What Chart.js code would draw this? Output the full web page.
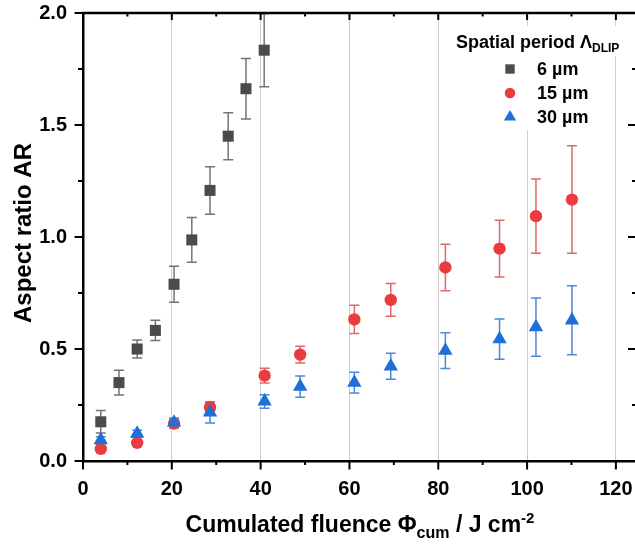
<!DOCTYPE html>
<html lang="en">
<head>
<meta charset="UTF-8">
<title>Aspect ratio vs cumulated fluence</title>
<script src="https://cdn.jsdelivr.net/npm/chart.js"></script>
<style>
  body { margin: 0; background: #fff; }
  canvas { display: block; }
</style>
</head>
<body>
<canvas id="arChart" width="635" height="545"></canvas>
<script>
// values
const fluence6 = [4.0, 8.1, 12.2, 16.3, 20.5, 24.5, 28.6, 32.7, 36.7, 40.8];
const ar6 = [0.175, 0.35, 0.50, 0.583, 0.789, 0.987, 1.208, 1.45, 1.662, 1.834];
const err6 = [0.05, 0.055, 0.04, 0.045, 0.08, 0.10, 0.106, 0.105, 0.135, 0.163];

const fluence15 = [4.0, 12.2, 20.5, 28.6, 40.9, 48.9, 61.1, 69.3, 81.6, 93.8, 102.0, 110.1];
const ar15 = [0.054, 0.081, 0.167, 0.239, 0.381, 0.475, 0.632, 0.719, 0.864, 0.948, 1.093, 1.167];
const err15 = [0.01, 0.01, 0.02, 0.02, 0.033, 0.037, 0.063, 0.073, 0.104, 0.127, 0.166, 0.24];

const fluence30 = [4.0, 12.2, 20.5, 28.6, 40.9, 48.9, 61.1, 69.3, 81.6, 93.8, 102.0, 110.1];
const ar30 = [0.093, 0.122, 0.172, 0.217, 0.266, 0.332, 0.35, 0.423, 0.493, 0.544, 0.598, 0.628];
const err30 = [0.015, 0.015, 0.02, 0.047, 0.03, 0.047, 0.046, 0.058, 0.08, 0.09, 0.13, 0.154];

const periods = ["6 µm", "15 µm", "30 µm"];

const FONT = '"Liberation Sans", Arial, sans-serif';

function points(xs, ys) {
    return xs.map((x, i) => ({ x: x, y: ys[i] }));
}

function makeSet(label, xs, ys, errs, fill, barColor, style, radius, order) {
    return {
        label: label,
        data: points(xs, ys),
        errors: errs,
        errorColor: barColor,
        backgroundColor: fill,
        borderColor: fill,
        borderWidth: 0,
        pointStyle: style,
        pointRadius: radius,
        showLine: false,
        order: order
    };
}

// error bars, drawn under the markers
const errorBars = {
    id: 'errorBars',
    beforeDatasetsDraw(chart) {
        const ctx = chart.ctx, a = chart.chartArea, ys = chart.scales.y;
        ctx.save();
        ctx.beginPath();
        ctx.rect(a.left, a.top, a.right - a.left, a.bottom - a.top);
        ctx.clip();
        ctx.lineWidth = 1.5;
        chart.data.datasets.forEach((ds, i) => {
            const meta = chart.getDatasetMeta(i);
            ctx.strokeStyle = ds.errorColor;
            meta.data.forEach((pt, j) => {
                const v = ds.data[j].y, e = ds.errors[j];
                const top = ys.getPixelForValue(v + e), bot = ys.getPixelForValue(v - e);
                ctx.beginPath();
                ctx.moveTo(pt.x, top); ctx.lineTo(pt.x, bot);
                ctx.moveTo(pt.x - 5, top); ctx.lineTo(pt.x + 5, top);
                ctx.moveTo(pt.x - 5, bot); ctx.lineTo(pt.x + 5, bot);
                ctx.stroke();
            });
        });
        ctx.restore();
    }
};

function drawRuns(ctx, runs, x, y) {
    runs.forEach(r => {
        ctx.font = 'bold ' + r.size + 'px ' + FONT;
        ctx.fillText(r.t, x, y + r.dy);
        x += ctx.measureText(r.t).width;
    });
}
function runsWidth(ctx, runs) {
    let w = 0;
    runs.forEach(r => {
        ctx.font = 'bold ' + r.size + 'px ' + FONT;
        w += ctx.measureText(r.t).width;
    });
    return w;
}

// frame ticks, axis titles and legend
const frame = {
    id: 'frame',
    afterDraw(chart) {
        const ctx = chart.ctx, a = chart.chartArea;
        const xs = chart.scales.x, ys = chart.scales.y;
        ctx.save();
        ctx.strokeStyle = '#000';
        ctx.lineWidth = 2.5;
        ctx.beginPath();
        ctx.moveTo(a.left - 1, a.top); ctx.lineTo(a.right, a.top);
        ctx.stroke();

        ctx.lineWidth = 2;
        for (let v = 0; v <= 120; v += 10) {
            const px = xs.getPixelForValue(v);
            const major = v % 20 === 0;
            ctx.beginPath();
            ctx.moveTo(px, a.bottom); ctx.lineTo(px, a.bottom + (major ? 8.5 : 4));
            if (v > 0) {
                ctx.moveTo(px, a.top); ctx.lineTo(px, a.top + (major ? 7 : 3.5));
            }
            ctx.stroke();
        }
        for (let v = 0; v <= 2.0001; v += 0.25) {
            const py = ys.getPixelForValue(v);
            const major = Math.abs(v * 2 - Math.round(v * 2)) < 1e-6;
            ctx.beginPath();
            ctx.moveTo(a.left - (major ? 8.5 : 5), py); ctx.lineTo(a.left, py);
            if (v > 0 && v < 2) {
                ctx.moveTo(a.right - (major ? 7 : 3), py); ctx.lineTo(a.right, py);
            }
            ctx.stroke();
        }

        // axis titles
        ctx.fillStyle = '#000';
        ctx.textBaseline = 'alphabetic';
        const xTitle = [
            { t: 'Cumulated fluence Φ', size: 23, dy: 0 },
            { t: 'cum', size: 16, dy: 6 },
            { t: ' / J cm', size: 23, dy: 0 },
            { t: '-2', size: 15, dy: -9 }
        ];
        drawRuns(ctx, xTitle, 360 - runsWidth(ctx, xTitle) / 2, 532);

        ctx.save();
        ctx.translate(31, 233);
        ctx.rotate(-Math.PI / 2);
        ctx.font = 'bold 24px ' + FONT;
        ctx.textAlign = 'center';
        ctx.fillText('Aspect ratio AR', 0, 0);
        ctx.restore();

        // legend
        ctx.fillStyle = '#fff';
        ctx.fillRect(448, 26, 166, 104);
        ctx.fillRect(448, 26, 185, 30);
        ctx.fillStyle = '#000';
        drawRuns(ctx, [
            { t: 'Spatial period Λ', size: 18, dy: 0 },
            { t: 'DLIP', size: 12, dy: 4 }
        ], 456, 48);
        const rowsY = [69, 93, 117];
        chart.data.datasets.forEach((ds, i) => {
            ctx.fillStyle = ds.backgroundColor;
            ctx.strokeStyle = ds.backgroundColor;
            Chart.helpers.drawPoint(ctx, {
                pointStyle: ds.pointStyle,
                radius: ds.pointRadius * 0.85,
                borderWidth: 0,
                rotation: 0
            }, 510, rowsY[i]);
            ctx.fillStyle = '#000';
            ctx.font = 'bold 18px ' + FONT;
            ctx.textBaseline = 'middle';
            ctx.fillText(ds.label, 537, rowsY[i] + 1);
        });
        ctx.restore();
    }
};

new Chart(document.getElementById('arChart'), {
    type: 'scatter',
    data: {
        datasets: [
            makeSet(periods[0], fluence6, ar6, err6, '#4b4b4b', '#747474', 'rect', 7.8, 3),
            makeSet(periods[1], fluence15, ar15, err15, '#ea3c3e', '#e2676a', 'circle', 6.2, 2),
            makeSet(periods[2], fluence30, ar30, err30, '#1e6fd8', '#4a89d9', 'triangle', 8.3, 1)
        ]
    },
    options: {
        responsive: false,
        animation: false,
        layout: { autoPadding: false, padding: { top: 13, right: 0, left: 0, bottom: 0 } },
        plugins: { legend: { display: false }, tooltip: { enabled: false } },
        scales: {
            x: {
                type: 'linear',
                min: 0,
                max: 124.3,
                afterFit: s => { s.height = 84; s.paddingLeft = 0; s.paddingRight = 0; },
                border: { display: true, color: '#000', width: 2.5 },
                grid: {
                    drawTicks: false,
                    lineWidth: 1,
                    color: c => c.tick && c.tick.value === 0 ? 'rgba(0,0,0,0)' : '#cdcdcd'
                },
                ticks: {
                    stepSize: 20,
                    includeBounds: false,
                    color: '#000',
                    padding: 16,
                    maxRotation: 0,
                    font: { family: FONT, size: 20, weight: 'bold' }
                }
            },
            y: {
                min: 0,
                max: 2,
                afterFit: s => { s.width = 83; s.paddingTop = 0; s.paddingBottom = 0; },
                border: { display: true, color: '#000', width: 2.5 },
                grid: { display: false, drawTicks: false },
                ticks: {
                    stepSize: 0.5,
                    color: '#000',
                    padding: 16,
                    font: { family: FONT, size: 20, weight: 'bold' },
                    callback: v => v.toFixed(1)
                }
            }
        }
    },
    plugins: [errorBars, frame]
});
</script>
</body>
</html>
